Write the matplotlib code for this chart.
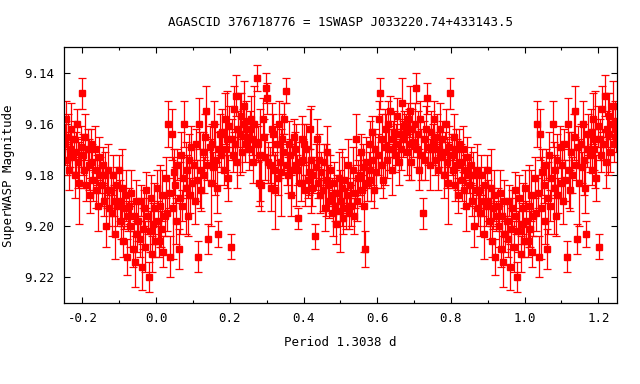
import numpy as np
import matplotlib
matplotlib.use("Agg")
import matplotlib.pyplot as plt
from matplotlib.ticker import MultipleLocator, FormatStrFormatter

phase = [
    0.002, 0.005, 0.008, 0.011, 0.014, 0.017, 0.020, 0.023,
    0.027, 0.030, 0.033, 0.036, 0.039, 0.042, 0.045, 0.048,
    0.052, 0.055, 0.058, 0.061, 0.064, 0.067, 0.070, 0.073,
    0.077, 0.080, 0.083, 0.086, 0.089, 0.092, 0.095, 0.098,
    0.102, 0.105, 0.108, 0.111, 0.114, 0.117, 0.120, 0.123,
    0.127, 0.130, 0.133, 0.136, 0.139, 0.142, 0.145, 0.148,
    0.152, 0.155, 0.158, 0.161, 0.164, 0.167, 0.170, 0.173,
    0.177, 0.180, 0.183, 0.186, 0.189, 0.192, 0.195, 0.198,
    0.202, 0.205, 0.208, 0.211, 0.214, 0.217, 0.220, 0.223,
    0.227, 0.230, 0.233, 0.236, 0.239, 0.242, 0.245, 0.248,
    0.252, 0.255, 0.258, 0.261, 0.264, 0.267, 0.270, 0.273,
    0.277, 0.280, 0.283, 0.286, 0.289, 0.292, 0.295, 0.298,
    0.302, 0.305, 0.308, 0.311, 0.314, 0.317, 0.320, 0.323,
    0.327, 0.330, 0.333, 0.336, 0.339, 0.342, 0.345, 0.348,
    0.352, 0.355, 0.358, 0.361, 0.364, 0.367, 0.370, 0.373,
    0.377, 0.380, 0.383, 0.386, 0.389, 0.392, 0.395, 0.398,
    0.402, 0.405, 0.408, 0.411, 0.414, 0.417, 0.420, 0.423,
    0.427, 0.430, 0.433, 0.436, 0.439, 0.442, 0.445, 0.448,
    0.452, 0.455, 0.458, 0.461, 0.464, 0.467, 0.470, 0.473,
    0.477, 0.480, 0.483, 0.486, 0.489, 0.492, 0.495, 0.498,
    0.502, 0.505, 0.508, 0.511, 0.514, 0.517, 0.520, 0.523,
    0.527, 0.530, 0.533, 0.536, 0.539, 0.542, 0.545, 0.548,
    0.552, 0.555, 0.558, 0.561, 0.564, 0.567, 0.570, 0.573,
    0.577, 0.580, 0.583, 0.586, 0.589, 0.592, 0.595, 0.598,
    0.602, 0.605, 0.608, 0.611, 0.614, 0.617, 0.620, 0.623,
    0.627, 0.630, 0.633, 0.636, 0.639, 0.642, 0.645, 0.648,
    0.652, 0.655, 0.658, 0.661, 0.664, 0.667, 0.670, 0.673,
    0.677, 0.680, 0.683, 0.686, 0.689, 0.692, 0.695, 0.698,
    0.702, 0.705, 0.708, 0.711, 0.714, 0.717, 0.720, 0.723,
    0.727, 0.730, 0.733, 0.736, 0.739, 0.742, 0.745, 0.748,
    0.752, 0.755, 0.758, 0.761, 0.764, 0.767, 0.770, 0.773,
    0.777, 0.780, 0.783, 0.786, 0.789, 0.792, 0.795, 0.798,
    0.802, 0.805, 0.808, 0.811, 0.814, 0.817, 0.820, 0.823,
    0.827, 0.830, 0.833, 0.836, 0.839, 0.842, 0.845, 0.848,
    0.852, 0.855, 0.858, 0.861, 0.864, 0.867, 0.870, 0.873,
    0.877, 0.880, 0.883, 0.886, 0.889, 0.892, 0.895, 0.898,
    0.902, 0.905, 0.908, 0.911, 0.914, 0.917, 0.920, 0.923,
    0.927, 0.930, 0.933, 0.936, 0.939, 0.942, 0.945, 0.948,
    0.952, 0.955, 0.958, 0.961, 0.964, 0.967, 0.970, 0.973,
    0.977, 0.980, 0.983, 0.986, 0.989, 0.992, 0.995, 0.998,
]

mag = [
    9.185, 9.198, 9.206, 9.192, 9.201, 9.188, 9.210, 9.196,
    9.181, 9.195, 9.160, 9.187, 9.212, 9.164, 9.193, 9.179,
    9.184, 9.198, 9.176, 9.209, 9.189, 9.172, 9.192, 9.181,
    9.160, 9.185, 9.178, 9.196, 9.174, 9.188, 9.169, 9.183,
    9.176, 9.190, 9.168, 9.182, 9.212, 9.160, 9.178, 9.186,
    9.171, 9.180, 9.165, 9.155, 9.176, 9.205, 9.169, 9.183,
    9.168, 9.177, 9.160, 9.174, 9.185, 9.203, 9.170, 9.164,
    9.172, 9.163, 9.178, 9.158, 9.170, 9.166, 9.181, 9.161,
    9.208, 9.166, 9.172, 9.154, 9.168, 9.149, 9.175, 9.162,
    9.164, 9.157, 9.171, 9.160, 9.153, 9.168, 9.159, 9.165,
    9.170, 9.162, 9.158, 9.166, 9.175, 9.160, 9.167, 9.142,
    9.168, 9.183, 9.172, 9.184, 9.158, 9.165, 9.173, 9.146,
    9.150, 9.175, 9.176, 9.185, 9.162, 9.164, 9.178, 9.186,
    9.168, 9.181, 9.160, 9.175, 9.179, 9.166, 9.171, 9.158,
    9.147, 9.176, 9.180, 9.168, 9.172, 9.188, 9.178, 9.165,
    9.170, 9.176, 9.178, 9.197, 9.175, 9.183, 9.166, 9.174,
    9.168, 9.186, 9.170, 9.182, 9.179, 9.162, 9.174, 9.185,
    9.180, 9.204, 9.177, 9.166, 9.183, 9.174, 9.188, 9.179,
    9.186, 9.175, 9.193, 9.182, 9.171, 9.184, 9.190, 9.178,
    9.188, 9.195, 9.183, 9.192, 9.199, 9.187, 9.181, 9.194,
    9.190, 9.185, 9.197, 9.182, 9.193, 9.188, 9.176, 9.195,
    9.184, 9.192, 9.178, 9.196, 9.187, 9.166, 9.190, 9.181,
    9.180, 9.171, 9.186, 9.177, 9.192, 9.209, 9.175, 9.183,
    9.178, 9.168, 9.182, 9.163, 9.174, 9.186, 9.170, 9.179,
    9.172, 9.158, 9.148, 9.176, 9.166, 9.182, 9.169, 9.162,
    9.174, 9.160, 9.170, 9.155, 9.178, 9.166, 9.163, 9.172,
    9.168, 9.157, 9.175, 9.164, 9.170, 9.152, 9.166, 9.161,
    9.163, 9.171, 9.158, 9.168, 9.155, 9.175, 9.162, 9.167,
    9.160, 9.146, 9.170, 9.164, 9.178, 9.158, 9.172, 9.195,
    9.166, 9.174, 9.162, 9.150, 9.169, 9.176, 9.163, 9.170,
    9.168, 9.158, 9.174, 9.165, 9.178, 9.170, 9.162, 9.173,
    9.166, 9.180, 9.171, 9.160, 9.175, 9.183, 9.169, 9.148,
    9.172, 9.178, 9.165, 9.184, 9.170, 9.176, 9.188, 9.168,
    9.175, 9.182, 9.170, 9.186, 9.178, 9.192, 9.173, 9.180,
    9.184, 9.176, 9.190, 9.180, 9.200, 9.186, 9.178, 9.193,
    9.186, 9.195, 9.180, 9.190, 9.203, 9.184, 9.192, 9.178,
    9.190, 9.198, 9.185, 9.206, 9.193, 9.188, 9.212, 9.196,
    9.192, 9.200, 9.187, 9.209, 9.196, 9.214, 9.190, 9.203,
    9.198, 9.205, 9.190, 9.216, 9.201, 9.193, 9.208, 9.186,
    9.196, 9.220, 9.202, 9.189, 9.211, 9.199, 9.193, 9.206,
]

err = [
    0.007, 0.008, 0.006, 0.016, 0.007, 0.010, 0.006, 0.008,
    0.008, 0.007, 0.009, 0.006, 0.008, 0.010, 0.020, 0.009,
    0.007, 0.009, 0.006, 0.008, 0.014, 0.009, 0.006, 0.008,
    0.009, 0.018, 0.006, 0.008, 0.010, 0.007, 0.008, 0.006,
    0.007, 0.009, 0.006, 0.008, 0.006, 0.010, 0.015, 0.008,
    0.008, 0.007, 0.009, 0.010, 0.006, 0.006, 0.008, 0.017,
    0.008, 0.006, 0.009, 0.014, 0.010, 0.005, 0.007, 0.008,
    0.007, 0.009, 0.006, 0.010, 0.008, 0.019, 0.009, 0.008,
    0.005, 0.008, 0.007, 0.009, 0.006, 0.008, 0.010, 0.007,
    0.016, 0.009, 0.008, 0.006, 0.010, 0.007, 0.008, 0.006,
    0.008, 0.007, 0.009, 0.006, 0.008, 0.015, 0.007, 0.005,
    0.007, 0.009, 0.018, 0.010, 0.008, 0.007, 0.009, 0.006,
    0.006, 0.008, 0.007, 0.009, 0.010, 0.008, 0.006, 0.015,
    0.008, 0.007, 0.009, 0.006, 0.017, 0.010, 0.007, 0.006,
    0.005, 0.008, 0.007, 0.009, 0.006, 0.008, 0.010, 0.007,
    0.007, 0.016, 0.006, 0.004, 0.008, 0.007, 0.009, 0.008,
    0.008, 0.006, 0.010, 0.007, 0.009, 0.008, 0.021, 0.007,
    0.007, 0.005, 0.009, 0.008, 0.006, 0.010, 0.007, 0.008,
    0.008, 0.007, 0.009, 0.014, 0.010, 0.008, 0.007, 0.006,
    0.007, 0.009, 0.008, 0.006, 0.008, 0.007, 0.010, 0.016,
    0.008, 0.015, 0.006, 0.009, 0.008, 0.007, 0.010, 0.006,
    0.007, 0.008, 0.009, 0.007, 0.006, 0.010, 0.008, 0.007,
    0.008, 0.007, 0.006, 0.009, 0.018, 0.007, 0.010, 0.007,
    0.007, 0.009, 0.008, 0.006, 0.010, 0.007, 0.008, 0.006,
    0.008, 0.007, 0.006, 0.009, 0.010, 0.007, 0.015, 0.006,
    0.007, 0.009, 0.008, 0.006, 0.010, 0.007, 0.008, 0.007,
    0.008, 0.007, 0.009, 0.006, 0.008, 0.010, 0.007, 0.006,
    0.007, 0.009, 0.006, 0.014, 0.010, 0.007, 0.008, 0.006,
    0.008, 0.006, 0.007, 0.009, 0.008, 0.007, 0.010, 0.006,
    0.007, 0.008, 0.009, 0.006, 0.007, 0.010, 0.008, 0.006,
    0.008, 0.007, 0.006, 0.009, 0.008, 0.007, 0.010, 0.006,
    0.007, 0.009, 0.008, 0.006, 0.010, 0.016, 0.008, 0.006,
    0.008, 0.007, 0.009, 0.006, 0.008, 0.010, 0.007, 0.006,
    0.007, 0.008, 0.009, 0.007, 0.006, 0.010, 0.008, 0.007,
    0.008, 0.007, 0.006, 0.009, 0.008, 0.007, 0.010, 0.007,
    0.007, 0.009, 0.008, 0.006, 0.010, 0.007, 0.008, 0.006,
    0.008, 0.007, 0.015, 0.006, 0.008, 0.010, 0.007, 0.006,
    0.007, 0.008, 0.009, 0.007, 0.006, 0.010, 0.008, 0.007,
    0.008, 0.007, 0.006, 0.009, 0.008, 0.007, 0.010, 0.007,
    0.007, 0.006, 0.008, 0.009, 0.007, 0.008, 0.010, 0.006,
]

title = "AGASCID 376718776 = 1SWASP J033220.74+433143.5"
xlabel = "Period 1.3038 d"
ylabel = "SuperWASP Magnitude"

ph = np.array(phase)
mg = np.array(mag)
er = np.array(err)

# repete a fase: -0.25..0 e 1..1.25
x_all = np.concatenate([ph[ph >= 0.75] - 1.0, ph, ph[ph <= 0.25] + 1.0])
y_all = np.concatenate([mg[ph >= 0.75], mg, mg[ph <= 0.25]])
e_all = np.concatenate([er[ph >= 0.75], er, er[ph <= 0.25]])

plt.rcParams['font.family'] = ['DejaVu Sans Mono']

W, H = 640, 384
fig = plt.figure(figsize=(W / 100, H / 100), dpi=100)
ax = fig.add_axes([64 / W, 1 - 302.7 / H, (616.7 - 64) / W, (302.7 - 47.3) / H])

ax.errorbar(x_all, y_all, yerr=e_all, fmt='s', color='#ff0000', ms=4.2,
            mec='#ff0000', ecolor='#ff0000', elinewidth=0.9, capsize=3.2,
            capthick=0.9)

ax.set_xlim(-0.25, 1.25)
ax.set_ylim(9.23, 9.13)

ax.xaxis.set_major_locator(MultipleLocator(0.2))
ax.xaxis.set_minor_locator(MultipleLocator(0.1))
ax.yaxis.set_major_locator(MultipleLocator(0.02))
ax.xaxis.set_major_formatter(FormatStrFormatter('%.1f'))
ax.yaxis.set_major_formatter(FormatStrFormatter('%.2f'))

ax.tick_params(which='both', direction='in', top=True, right=True,
               labelsize=9, width=0.8, colors='black')
ax.tick_params(which='major', length=4, pad=7)
ax.tick_params(which='minor', length=2.2)
for s in ax.spines.values():
    s.set_linewidth(0.9)

fig.text(340.4 / W, 1 - 23 / H, title, ha='center', va='center', fontsize=9)
fig.text(340.4 / W, 1 - 343 / H, xlabel, ha='center', va='center', fontsize=9)
fig.text(9 / W, 1 - 176 / H, ylabel, ha='center', va='center', rotation=90,
         fontsize=9)

fig.savefig('out.png', dpi=100)
